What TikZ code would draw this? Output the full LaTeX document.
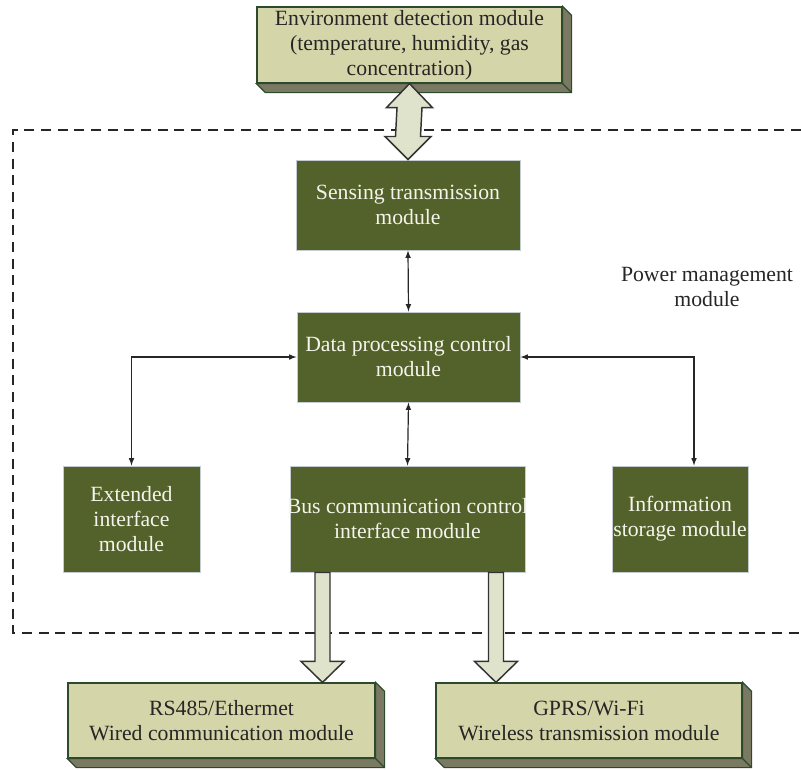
\documentclass[tikz,border=0pt]{standalone}
\usepackage{fontspec}
\setmainfont{Liberation Serif}
\usetikzlibrary{arrows,calc,positioning}

\definecolor{modgreen}{HTML}{53622A}
\definecolor{modedge}{HTML}{C5CDD3}
\definecolor{modtext}{HTML}{F4F4EC}
\definecolor{outgreen}{HTML}{D5D5AA}
\definecolor{outside}{HTML}{7A7A62}
\definecolor{outedge}{HTML}{2E4A2E}
\definecolor{arrowfill}{HTML}{E0E3CB}
\definecolor{arrowedge}{HTML}{333333}

\tikzset{
  modtextstyle/.style={text=modtext, align=center, inner sep=0pt, font=\fontsize{16.3}{18.75}\selectfont},
  module/.style={draw=modedge, line width=0.75pt, fill=modgreen, modtextstyle},
  outer/.style={draw=outedge, line width=0.9pt, fill=outgreen, text=black!85, align=center, inner sep=0pt, font=\fontsize{16.3}{18.75}\selectfont},
  outdepth/.style={draw=outedge, line width=0.9pt, fill=outside, line join=miter},
  link/.style={latex-latex, line width=0.9pt, draw=black!85},
  blockarrow/.style={draw=arrowedge, line width=1.1pt, fill=arrowfill, line join=miter},
  powerframe/.style={draw=black!85, line width=1.1pt, dash pattern=on 7.5pt off 5pt}
}

\begin{document}
\begin{tikzpicture}[x=0.75pt,y=0.75pt,yscale=-1,xscale=1]
\useasboundingbox (0,0) rectangle (801,769);

%Power management frame
\draw[powerframe] (801,130) -- (13,130) -- (13,633) -- (801,633);
\node (power) at (707,287) [align=center, text=black!85, font=\fontsize{16.3}{18.75}\selectfont] {Power management\\module};

%Environment detection module
\node[outer, minimum width=228.75pt, minimum height=57pt] (env) at (409.5,45) {Environment detection module\\(temperature, humidity, gas\\concentration)};
\draw[outdepth] (env.north east) -- ++(9,9) -- ($(env.south east)+(9,9)$) -- ($(env.south west)+(9,9)$) -- (env.south west) -- (env.south east) -- cycle;
\draw[outdepth] (env.south east) -- ++(9,9);

%Inner modules
\node[module, minimum width=168pt, minimum height=67.5pt] (sense) at (408,205) {Sensing transmission\\module};
\node[module, minimum width=167.25pt, minimum height=67.5pt] (data) at (408.5,357) {Data processing control\\module};
\node[module, minimum width=102.75pt, minimum height=79.5pt] (ext) at (131.5,519) {Extended\\interface\\module};
\node[module, minimum width=176.25pt, minimum height=79.5pt, label={[modtextstyle]center:Bus communication control\\interface module}] (bus) at (407.5,519) {};
\node[module, minimum width=102pt, minimum height=79.5pt] (info) at (680,519) {Information\\storage module};

%Outer communication modules
\node[outer, minimum width=230.25pt, minimum height=56.25pt] (wired) at (221.5,720.5) {RS485/Ethermet\\Wired communication module};
\draw[outdepth] (wired.north east) -- ++(9,9) -- ($(wired.south east)+(9,9)$) -- ($(wired.south west)+(9,9)$) -- (wired.south west) -- (wired.south east) -- cycle;
\draw[outdepth] (wired.south east) -- ++(9,9);
\node[outer, minimum width=229.5pt, minimum height=56.25pt] (wireless) at (589,720.5) {GPRS/Wi-Fi\\Wireless transmission module};
\draw[outdepth] (wireless.north east) -- ++(9,9) -- ($(wireless.south east)+(9,9)$) -- ($(wireless.south west)+(9,9)$) -- (wireless.south west) -- (wireless.south east) -- cycle;
\draw[outdepth] (wireless.south east) -- ++(9,9);

%Thin links
\draw[link] (sense.south) -- (data.north);
\draw[link] (data.south) -- (bus.north);
\draw[link] (data.west) -| (ext.north);
\coordinate (infotop) at ($(info.north)+(14,0)$);
\draw[link] (data.east) -| (infotop);

%Double block arrow env <-> sense
\draw[blockarrow] (env.south) -- ++(23,24) -- ++(-10.5,0) -- ($(sense.north)+(12.5,-23)$) -- ++(10.5,0) -- (sense.north) -- ++(-23,-23) -- ++(10.5,0) -- ($(env.south)+(-12.5,24)$) -- ++(-10.5,0) -- cycle;

%Block arrows bus -> outer modules
\coordinate (wiredtop) at ($(bus.south)+(-85,0)$);
\coordinate (wiredtip) at (wiredtop |- wired.north);
\draw[blockarrow] ($(wiredtop)+(-7.5,0)$) -- ($(wiredtip)+(-7.5,-21)$) -- ++(-14,0) -- (wiredtip) -- ++(21.5,-21) -- ++(-14,0) -- ($(wiredtop)+(7.5,0)$) -- cycle;
\coordinate (wlesstop) at ($(bus.south)+(88.5,0)$);
\coordinate (wlesstip) at (wlesstop |- wireless.north);
\draw[blockarrow] ($(wlesstop)+(-7.5,0)$) -- ($(wlesstip)+(-7.5,-21)$) -- ++(-14,0) -- (wlesstip) -- ++(21.5,-21) -- ++(-14,0) -- ($(wlesstop)+(7.5,0)$) -- cycle;

\end{tikzpicture}
\end{document}
